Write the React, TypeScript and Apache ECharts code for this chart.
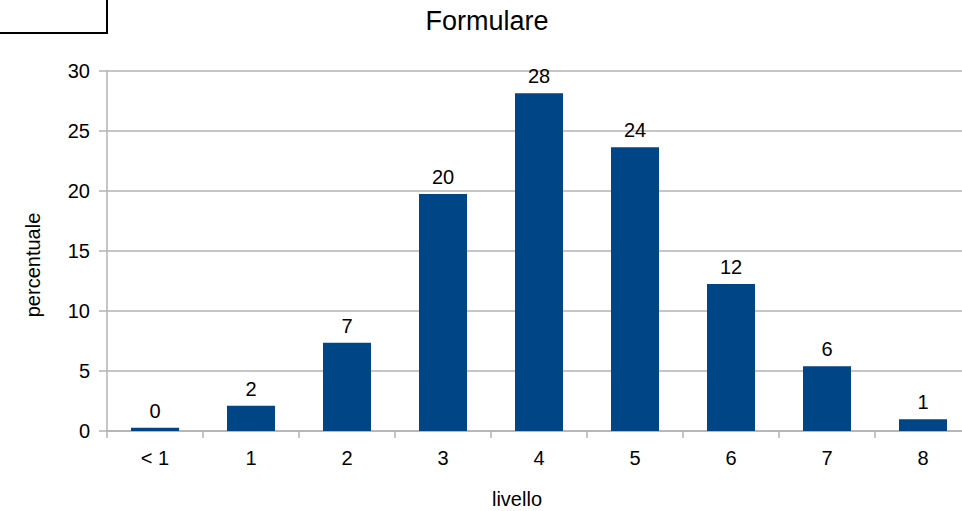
import React, { useEffect, useRef } from "react";
import * as echarts from "echarts";

const categories = ["< 1", "1", "2", "3", "4", "5", "6", "7", "8"];
const values = [0.28, 2.1, 7.35, 19.75, 28.14, 23.64, 12.25, 5.4, 0.97];
const valueLabels = ["0", "2", "7", "20", "28", "24", "12", "6", "1"];
const yTicks = [0, 5, 10, 15, 20, 25, 30];

const FONT = "'Liberation Sans', Arial, sans-serif";

export default function App() {
  const ref = useRef<HTMLDivElement>(null);
  useEffect(() => {
    if (!ref.current) return;
    const chart = echarts.init(ref.current, null, { renderer: "svg" });
    chart.setOption({
      animation: false,
      backgroundColor: "#ffffff",
      textStyle: { fontFamily: FONT },
      graphic: [
        {
          type: "rect",
          shape: { x: -3, y: -3, width: 110, height: 36 },
          style: { fill: "none", stroke: "#000000", lineWidth: 2 },
        },
        {
          type: "text",
          x: 487,
          y: 21,
          style: {
            text: "Formulare",
            fontFamily: FONT,
            fontSize: 27,
            fill: "#000000",
            textAlign: "center",
            textVerticalAlign: "middle",
          },
        },
        {
          type: "text",
          x: 517,
          y: 499,
          style: {
            text: "livello",
            fontFamily: FONT,
            fontSize: 20,
            fill: "#000000",
            textAlign: "center",
            textVerticalAlign: "middle",
          },
        },
        {
          type: "text",
          x: 33,
          y: 265,
          rotation: Math.PI / 2,
          style: {
            text: "percentuale",
            fontFamily: FONT,
            fontSize: 20,
            fill: "#000000",
            textAlign: "center",
            textVerticalAlign: "middle",
          },
        },
      ],
      grid: { left: 107, top: 71, width: 864, height: 360, containLabel: false },
      xAxis: {
        type: "category",
        data: categories,
        boundaryGap: true,
        axisLine: { show: true, lineStyle: { color: "#b3b3b3", width: 1.5 } },
        axisTick: { show: true, length: 7, lineStyle: { color: "#b3b3b3", width: 1.5 } },
        axisLabel: { fontFamily: FONT, fontSize: 20, color: "#000000", margin: 17 },
        splitLine: { show: false },
      },
      yAxis: {
        type: "value",
        min: yTicks[0],
        max: yTicks[yTicks.length - 1],
        interval: 5,
        axisLine: { show: true, lineStyle: { color: "#b3b3b3", width: 1.5 } },
        axisTick: { show: true, length: 8, lineStyle: { color: "#b3b3b3", width: 1.5 } },
        axisLabel: { fontFamily: FONT, fontSize: 20, color: "#000000", margin: 17 },
        splitLine: { show: true, lineStyle: { color: "#b3b3b3", width: 1.5 } },
      },
      series: [
        {
          type: "bar",
          data: values,
          barWidth: "50%",
          itemStyle: { color: "#004586" },
          label: {
            show: true,
            position: "top",
            distance: 7,
            fontFamily: FONT,
            fontSize: 20,
            color: "#000000",
            formatter: (p: any) => valueLabels[p.dataIndex],
          },
        },
      ],
    });
    return () => chart.dispose();
  }, []);
  return (
    <div
      ref={ref}
      style={{ position: "fixed", left: 0, top: 0, width: 990, height: 511 }}
    />
  );
}
